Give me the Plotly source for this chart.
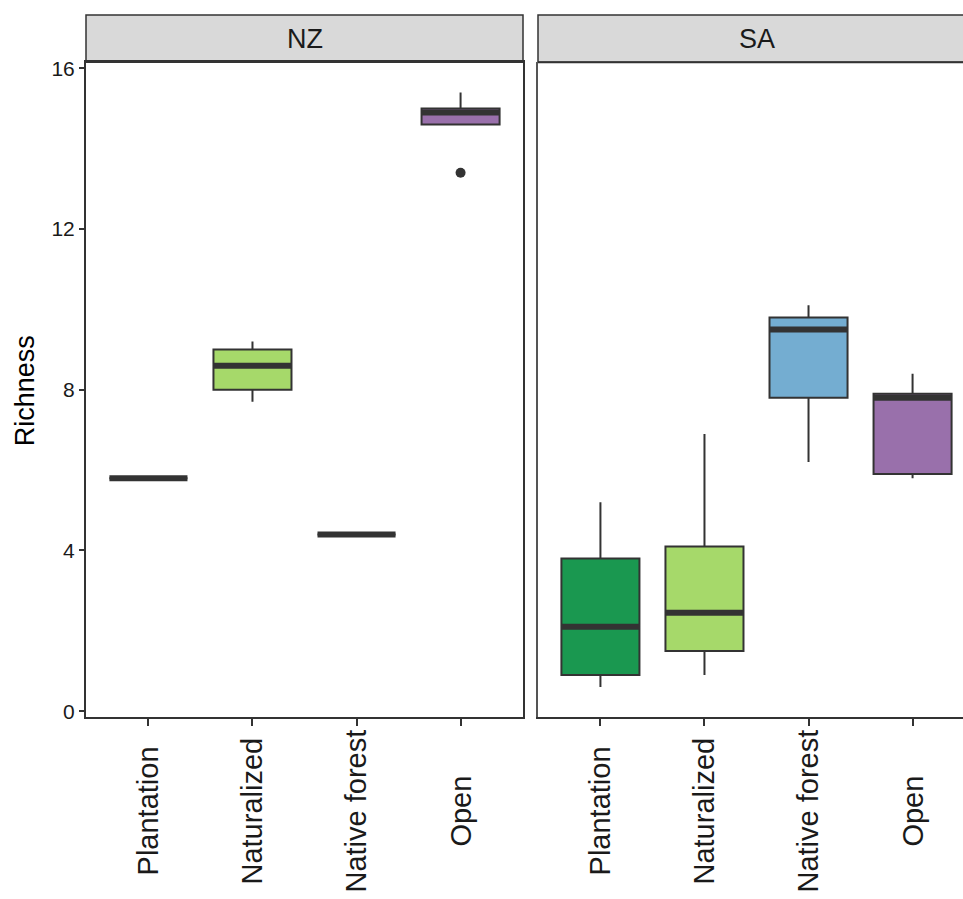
import plotly.graph_objects as go

# ---- data ----
categories = ["Plantation", "Naturalized", "Native forest", "Open"]
colors = ["#1A9850", "#A6D96A", "#74ADD1", "#9970AB"]

nz_lo = [5.8, 7.7, 4.4, 14.6]
nz_q1 = [5.8, 8.0, 4.4, 14.6]
nz_med = [5.8, 8.6, 4.4, 14.9]
nz_q3 = [5.8, 9.0, 4.4, 15.0]
nz_hi = [5.8, 9.2, 4.4, 15.4]
nz_out_cat = [4]
nz_out_val = [13.4]

sa_lo = [0.6, 0.9, 6.2, 5.8]
sa_q1 = [0.9, 1.5, 7.8, 5.9]
sa_med = [2.1, 2.45, 9.5, 7.8]
sa_q3 = [3.8, 4.1, 9.8, 7.9]
sa_hi = [5.2, 6.9, 10.1, 8.4]

panels = ["NZ", "SA"]
yticks = [0, 4, 8, 12, 16]

W, H = 963, 899
FONT = "Liberation Sans, Arial, sans-serif"
DARK = "#333333"
BOXW = 0.75

fig = go.Figure()

def add_panel(xa, ya, lo, q1, med, q3, hi):
    for i, cat in enumerate(categories):
        pos = i + 1
        fig.add_trace(go.Box(
            x=[pos], q1=[q1[i]], median=[med[i]], q3=[q3[i]],
            lowerfence=[lo[i]], upperfence=[hi[i]],
            width=BOXW, whiskerwidth=0, boxpoints=False,
            fillcolor=colors[i], line=dict(color=DARK, width=2),
            xaxis=xa, yaxis=ya, showlegend=False, hoverinfo="skip"))
        fig.add_trace(go.Scatter(
            x=[pos - BOXW / 2, pos + BOXW / 2], y=[med[i], med[i]],
            mode="lines", line=dict(color=DARK, width=6),
            xaxis=xa, yaxis=ya, showlegend=False, hoverinfo="skip"))

add_panel("x", "y", nz_lo, nz_q1, nz_med, nz_q3, nz_hi)
add_panel("x2", "y2", sa_lo, sa_q1, sa_med, sa_q3, sa_hi)

fig.add_trace(go.Scatter(
    x=nz_out_cat, y=nz_out_val, mode="markers",
    marker=dict(color=DARK, size=10), xaxis="x", yaxis="y",
    showlegend=False, hoverinfo="skip"))

# ---- layout geometry (pixels) ----
nz_l, nz_r = 86, 523
sa_l, sa_r_full = 538, 975
p_top, p_bot = 57, 720
s_top = 9
label_cy = 815
unit = (nz_r - nz_l) / 4.2
sa_range_hi = 0.4 + (W - sa_l) / unit

ydom = [1 - p_bot / H, 1 - p_top / H]

xcommon = dict(
    tickvals=[1, 2, 3, 4], showticklabels=False,
    ticks="outside", ticklen=7, tickwidth=1.5, tickcolor=DARK,
    showgrid=False, zeroline=False, fixedrange=True,
)

fig.update_layout(
    width=W, height=H,
    margin=dict(l=0, r=0, t=0, b=0),
    paper_bgcolor="white", plot_bgcolor="white",
    boxmode="overlay",
    xaxis=dict(domain=[nz_l / W, nz_r / W], range=[0.4, 4.6], anchor="y",
               showline=True, linecolor=DARK, linewidth=2, mirror=True, **xcommon),
    xaxis2=dict(domain=[sa_l / W, 1.0], range=[0.4, sa_range_hi], anchor="y2",
                showline=True, linecolor=DARK, linewidth=2, mirror=False, **xcommon),
    yaxis=dict(domain=ydom, range=[-0.15, 16.15], anchor="x",
               tickvals=yticks, ticktext=[str(v) for v in yticks],
               ticks="outside", ticklen=5, tickwidth=1.5, tickcolor=DARK,
               showline=True, linecolor=DARK, linewidth=2, mirror=True,
               showgrid=False, zeroline=False,
               tickfont=dict(family=FONT, size=21, color="#1A1A1A")),
    yaxis2=dict(domain=ydom, range=[-0.15, 16.15], anchor="x2",
                showticklabels=False, ticks="",
                showline=True, linecolor="#555555", linewidth=1.5, mirror=False,
                showgrid=False, zeroline=False),
)

# category labels (rotated, centred like ggplot hjust=0.5)
for xa in ["x", "x2"]:
    for i, cat in enumerate(categories):
        fig.add_annotation(text=cat, xref=xa, yref="paper",
                           x=i + 1, y=1 - label_cy / H, textangle=-90,
                           showarrow=False, xanchor="center", yanchor="middle",
                           font=dict(family=FONT, size=29, color="#1A1A1A"))

# strips
for name, l, r in [("NZ", nz_l, nz_r), ("SA", sa_l, sa_r_full)]:
    fig.add_shape(type="rect", xref="paper", yref="paper",
                  x0=l / W, x1=r / W, y0=1 - p_top / H, y1=1 - s_top / H,
                  fillcolor="#D9D9D9", line=dict(color=DARK, width=1.5),
                  layer="below")
    fig.add_annotation(text=name, xref="paper", yref="paper",
                       x=(l + r) / 2 / W, y=1 - (s_top + p_top) / 2 / H,
                       showarrow=False, xanchor="center", yanchor="middle",
                       font=dict(family=FONT, size=27, color="#1A1A1A"))

# SA panel top border (under strip)
fig.add_shape(type="line", xref="paper", yref="paper",
              x0=sa_l / W, x1=1.02, y0=1 - p_top / H, y1=1 - p_top / H,
              line=dict(color=DARK, width=2))

# y-axis title
fig.add_annotation(text="Richness", xref="paper", yref="paper",
                   x=25 / W, y=1 - 390 / H, textangle=-90,
                   showarrow=False, xanchor="center", yanchor="middle",
                   font=dict(family=FONT, size=27, color="#000000"))

fig.write_html("out.html")
